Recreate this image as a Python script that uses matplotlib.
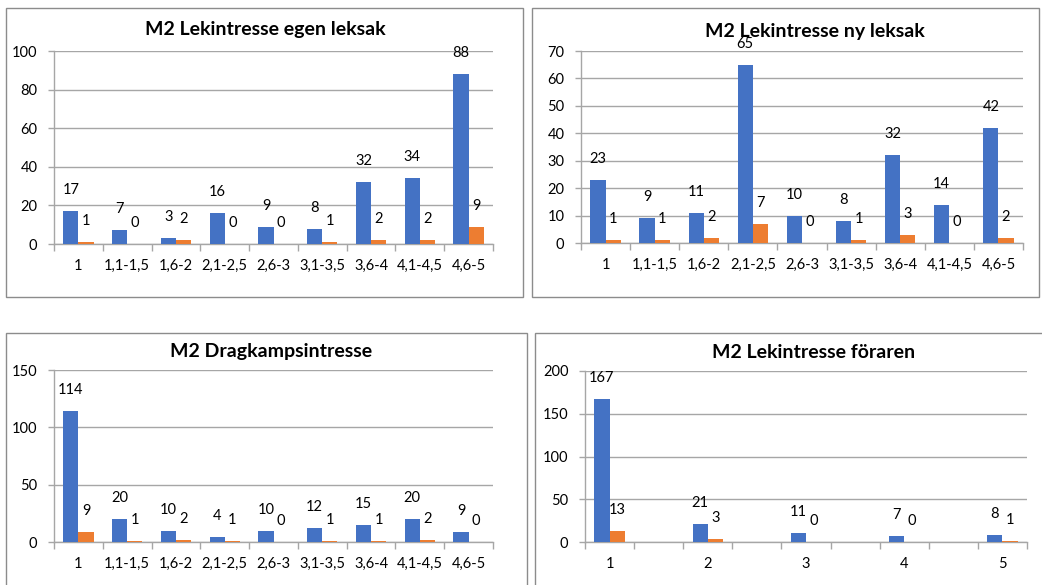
import numpy as np
import matplotlib.pyplot as plt
from matplotlib.patches import Rectangle

plt.rcParams['font.family'] = ['Lato', 'DejaVu Sans']

# categories
cats9 = ['1', '1,1-1,5', '1,6-2', '2,1-2,5', '2,6-3', '3,1-3,5', '3,6-4', '4,1-4,5', '4,6-5']
cats_forare = ['1', '', '2', '', '3', '', '4', '', '5']

# M2 Lekintresse egen leksak
egen_blue = [17, 7, 3, 16, 9, 8, 32, 34, 88]
egen_orange = [1, 0, 2, 0, 0, 1, 2, 2, 9]

# M2 Lekintresse ny leksak
ny_blue = [23, 9, 11, 65, 10, 8, 32, 14, 42]
ny_orange = [1, 1, 2, 7, 0, 1, 3, 0, 2]

# M2 Dragkampsintresse
drag_blue = [114, 20, 10, 4, 10, 12, 15, 20, 9]
drag_orange = [9, 1, 2, 1, 0, 1, 1, 2, 0]

# M2 Lekintresse föraren (tomma platser mellan heltalen)
forare_blue = [167, None, 21, None, 11, None, 7, None, 8]
forare_orange = [13, None, 3, None, 0, None, 0, None, 1]

BLUE = '#4472C4'
ORANGE = '#ED7D31'
GRID = '#A6A6A6'
TXT = '#000000'

W, H = 1042, 585
fig = plt.figure(figsize=(W / 100, H / 100), dpi=100)

# ramar runt diagrammen (pixlar)
for x0, y0, x1, y1 in [(6, 8, 523, 297), (532, 8, 1039, 297),
                       (6, 333, 527, 600), (535, 333, 1050, 600)]:
    fig.patches.append(Rectangle((x0 / W, 1 - y1 / H), (x1 - x0) / W, (y1 - y0) / H,
                                 transform=fig.transFigure, fill=False,
                                 edgecolor='#8C8C8C', linewidth=1.0, zorder=0))


def panel(rect, title, title_xy, labels, blue, orange, ymax, ystep):
    ax = fig.add_axes(rect)
    n = len(labels)
    x = np.arange(n)
    bw = 0.31
    b = np.array([np.nan if v is None else v for v in blue], dtype=float)
    o = np.array([np.nan if v is None else v for v in orange], dtype=float)
    ax.bar(x - bw / 2, b, bw, color=BLUE, zorder=3)
    ax.bar(x + bw / 2, o, bw, color=ORANGE, zorder=3)
    for xi, v in zip(x, b):
        if not np.isnan(v):
            ax.annotate(f'{int(v)}', (xi - bw / 2, v), xytext=(0, 21),
                        textcoords='offset pixels', ha='center', va='center',
                        fontsize=10.5, color=TXT, zorder=4)
    for xi, v in zip(x, o):
        if not np.isnan(v):
            ax.annotate(f'{int(v)}', (xi + bw / 2, v), xytext=(0, 21),
                        textcoords='offset pixels', ha='center', va='center',
                        fontsize=10.5, color=TXT, zorder=4)
    ax.set_xlim(-0.5, n - 0.5)
    ax.set_ylim(0, ymax)
    ax.set_yticks(np.arange(0, ymax + 1, ystep))
    ax.yaxis.grid(True, color=GRID, linewidth=1.0, zorder=0)
    ax.set_axisbelow(True)
    ax.set_xticks(np.arange(-0.5, n, 1.0))
    ax.set_xticklabels([])
    ax.set_xticks(x, minor=True)
    ax.set_xticklabels(labels, minor=True)
    ax.tick_params(axis='x', which='major', length=5, color=GRID, width=1.0, direction='out')
    ax.tick_params(axis='x', which='minor', length=0, pad=11, labelsize=10.5, labelcolor=TXT)
    ax.tick_params(axis='y', length=4, color=GRID, width=1.0, pad=8, labelsize=10.5,
                   labelcolor=TXT)
    for s in ['top', 'right']:
        ax.spines[s].set_visible(False)
    for s in ['left', 'bottom']:
        ax.spines[s].set_color(GRID)
        ax.spines[s].set_linewidth(1.0)
    ax.patch.set_alpha(0)
    fig.text(title_xy[0] / W, 1 - title_xy[1] / H, title, ha='center', va='center',
             fontsize=14, fontweight='bold', color=TXT)
    return ax


panel([54 / W, 1 - 244 / H, 439 / W, 193 / H], 'M2 Lekintresse egen leksak', (265, 29),
      cats9, egen_blue, egen_orange, 100, 20)
panel([581 / W, 1 - 243 / H, 442 / W, 192 / H], 'M2 Lekintresse ny leksak', (815, 31),
      cats9, ny_blue, ny_orange, 70, 10)
panel([54 / W, 1 - 542 / H, 439 / W, 172 / H], 'M2 Dragkampsintresse', (271, 352),
      cats9, drag_blue, drag_orange, 150, 50)
panel([585 / W, 1 - 542 / H, 442 / W, 171 / H], 'M2 Lekintresse föraren', (814, 352),
      cats_forare, forare_blue, forare_orange, 200, 50)

fig.savefig('out.png', dpi=100)
